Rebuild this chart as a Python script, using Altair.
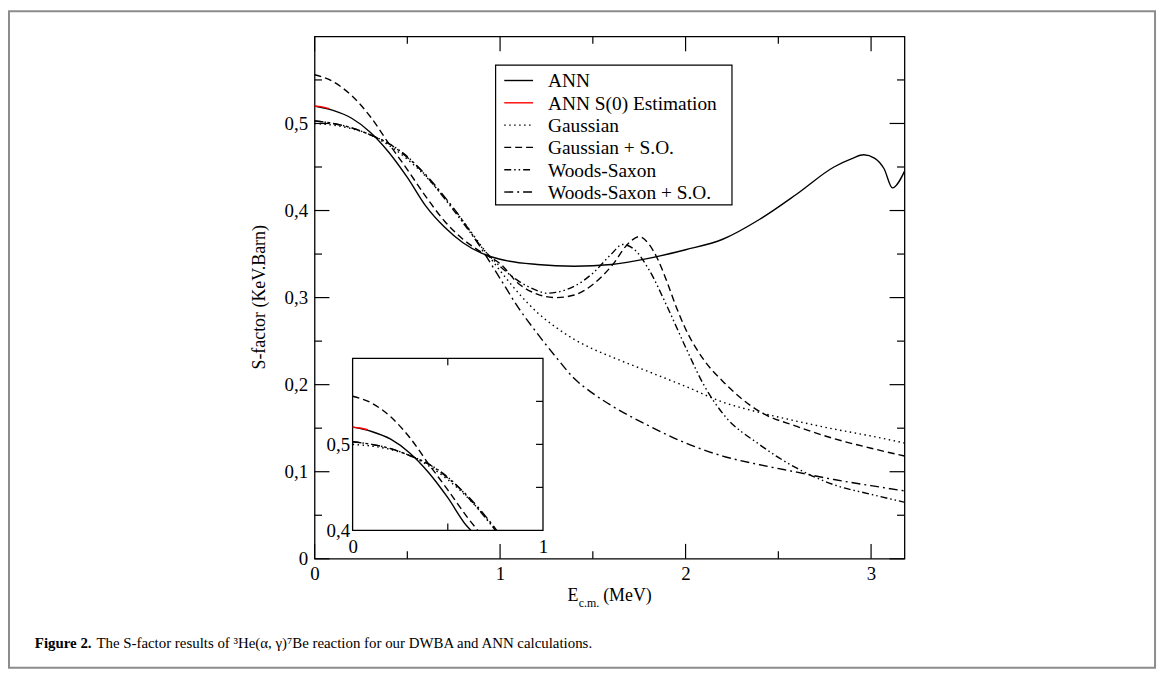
import altair as alt
import pandas as pd

# ---------------- data ----------------
ANN_X = [0.0, 0.1, 0.2, 0.3, 0.4, 0.5, 0.6, 0.7, 0.8, 0.9, 1.0, 1.2, 1.4, 1.6, 1.8,
         2.0, 2.2, 2.4, 2.6, 2.8, 2.9, 2.96, 3.02, 3.07, 3.115, 3.18]
ANN_Y = [0.520, 0.515, 0.506, 0.490, 0.467, 0.438, 0.405, 0.381, 0.363, 0.351, 0.344,
         0.338, 0.336, 0.338, 0.345, 0.355, 0.367, 0.390, 0.419, 0.450, 0.460, 0.464,
         0.460, 0.448, 0.426, 0.445]

S0_X = [0.0, 0.04, 0.08]
S0_Y = [0.520, 0.519, 0.517]

GAUSS_X = [0.0, 0.1, 0.2, 0.3, 0.4, 0.5, 0.6, 0.7, 0.8, 0.9, 1.0, 1.1, 1.2, 1.3, 1.4,
           1.5, 1.6, 1.8, 2.0, 2.2, 2.4, 2.6, 2.8, 3.0, 3.18]
GAUSS_Y = [0.500, 0.498, 0.494, 0.487, 0.475, 0.459, 0.439, 0.415, 0.388, 0.359, 0.331,
           0.305, 0.283, 0.266, 0.252, 0.241, 0.232, 0.215, 0.198, 0.180, 0.168, 0.158,
           0.149, 0.141, 0.133]

GSO_X = [0.0, 0.1, 0.2, 0.3, 0.4, 0.5, 0.6, 0.7, 0.8, 0.9, 1.0, 1.1, 1.2, 1.3, 1.4,
         1.5, 1.6, 1.7, 1.75, 1.8, 1.85, 1.9, 1.95, 2.0, 2.1, 2.2, 2.4, 2.6, 2.8, 3.0, 3.18]
GSO_Y = [0.556, 0.548, 0.532, 0.508, 0.477, 0.447, 0.416, 0.388, 0.367, 0.352, 0.339,
         0.316, 0.304, 0.300, 0.303, 0.315, 0.336, 0.364, 0.370, 0.362, 0.344, 0.318,
         0.289, 0.264, 0.228, 0.204, 0.169, 0.152, 0.138, 0.127, 0.118]

WS_X = [0.0, 0.1, 0.2, 0.3, 0.4, 0.5, 0.6, 0.7, 0.8, 0.9, 1.0, 1.1, 1.2, 1.25, 1.3,
        1.4, 1.5, 1.6, 1.66, 1.72, 1.8, 1.9, 2.0, 2.1, 2.2, 2.4, 2.6, 2.8, 3.0, 3.18]
WS_Y = [0.503, 0.500, 0.495, 0.487, 0.477, 0.462, 0.440, 0.414, 0.386, 0.358, 0.336,
        0.319, 0.308, 0.305, 0.306, 0.313, 0.328, 0.350, 0.361, 0.356, 0.333, 0.290,
        0.243, 0.199, 0.167, 0.131, 0.104, 0.085, 0.074, 0.065]

WSSO_X = [0.0, 0.1, 0.2, 0.3, 0.4, 0.5, 0.6, 0.7, 0.8, 0.9, 1.0, 1.1, 1.2, 1.3, 1.4,
          1.5, 1.6, 1.8, 2.0, 2.2, 2.4, 2.6, 2.8, 3.0, 3.18]
WSSO_Y = [0.503, 0.500, 0.495, 0.487, 0.477, 0.461, 0.441, 0.416, 0.388, 0.356, 0.322,
          0.288, 0.259, 0.232, 0.207, 0.190, 0.176, 0.153, 0.133, 0.118, 0.108, 0.0995,
          0.091, 0.084, 0.078]

LEGEND_NAMES = ["ANN", "ANN S(0) Estimation", "Gaussian", "Gaussian + S.O.",
                "Woods-Saxon", "Woods-Saxon + S.O."]

X_DOMAIN = [0, 3.18]
Y_DOMAIN = [0, 0.6]
X_MAJOR = [0, 1, 2, 3]
X_MINOR = [0.5, 1.5, 2.5]
Y_MAJOR = [0, 0.1, 0.2, 0.3, 0.4, 0.5]
Y_MINOR = [0.05, 0.15, 0.25, 0.35, 0.45, 0.55]

IN_X_DOMAIN = [0, 1]
IN_Y_DOMAIN = [0.4, 0.6]
IN_X_LABELS = [0, 1]
IN_Y_LABELS = [0.4, 0.5]
IN_X_TICKS = [0.5]
IN_Y_TICKS = [0.45, 0.5, 0.55]

Y_TITLE = ["S-factor (KeV.Barn)"]
X_TITLE = ["E", "c.m.", "(MeV)"]
CAPTION = ["Figure 2.",
           "The S-factor results of \u00b3He(\u03b1, \u03b3)\u2077Be reaction for our DWBA and ANN calculations."]

# ---------------- styling / layout ----------------
FONT = "Liberation Serif"
W, H = 594, 526
PAD_L, PAD_T = 308.7, 26.3
LW = 1.4

STYLE = {
    "ANN": ("black", None),
    "ANN S(0) Estimation": ("#ff0000", None),
    "Gaussian": ("black", [1.5, 3.5]),
    "Gaussian + S.O.": ("black", [7, 4]),
    "Woods-Saxon": ("black", [7, 3, 1.5, 3, 1.5, 3]),
    "Woods-Saxon + S.O.": ("black", [9, 4, 2, 4]),
}
DATA = {
    "ANN": (ANN_X, ANN_Y),
    "ANN S(0) Estimation": (S0_X, S0_Y),
    "Gaussian": (GAUSS_X, GAUSS_Y),
    "Gaussian + S.O.": (GSO_X, GSO_Y),
    "Woods-Saxon": (WS_X, WS_Y),
    "Woods-Saxon + S.O.": (WSSO_X, WSSO_Y),
}
DRAW_ORDER = ["Gaussian", "Gaussian + S.O.", "Woods-Saxon", "Woods-Saxon + S.O.",
              "ANN", "ANN S(0) Estimation"]

LABEL_EXPR = "datum.value == 0 ? '0' : replace(format(datum.value, '.1f'), '.', ',')"

axis_common = dict(ticks=False, domain=False, grid=False, labelFont=FONT,
                   labelFontSize=19, labelColor="black", title=None,
                   labelOverlap=False, labelFlush=False, labelBound=False)


def mx(field):
    return alt.X(field, type="quantitative",
                 scale=alt.Scale(domain=X_DOMAIN, nice=False, zero=False),
                 axis=alt.Axis(values=X_MAJOR, format="d", labelPadding=6,
                               orient="bottom", **axis_common))


def my(field):
    return alt.Y(field, type="quantitative",
                 scale=alt.Scale(domain=Y_DOMAIN, nice=False, zero=False),
                 axis=alt.Axis(values=Y_MAJOR, labelExpr=LABEL_EXPR, labelPadding=7,
                               orient="left", **axis_common))


IN_XR = [38.3, 230.0]
IN_YR = [497.4, 324.2]


def ix(field):
    return alt.X(field, type="quantitative",
                 scale=alt.Scale(domain=IN_X_DOMAIN, range=IN_XR, nice=False, zero=False),
                 axis=alt.Axis(values=IN_X_LABELS, format="d", labelPadding=7,
                               orient="bottom", offset=-(H - IN_YR[0]), **axis_common))


def iy(field):
    return alt.Y(field, type="quantitative",
                 scale=alt.Scale(domain=IN_Y_DOMAIN, range=IN_YR, nice=False, zero=False),
                 axis=alt.Axis(values=IN_Y_LABELS, labelExpr=LABEL_EXPR, labelPadding=3,
                               orient="left", offset=-IN_XR[0], **axis_common))


def line_kw(name):
    color, dash = STYLE[name]
    kw = dict(color=color, strokeWidth=LW, interpolate="monotone", strokeCap="butt")
    if dash:
        kw["strokeDash"] = dash
    return kw


def clip_inset(xs, ys):
    ox, oy = [], []
    for i, (x, y) in enumerate(zip(xs, ys)):
        if x > IN_X_DOMAIN[1]:
            break
        if y < IN_Y_DOMAIN[0]:
            if i > 0:
                x0, y0 = xs[i - 1], ys[i - 1]
                t = (y0 - IN_Y_DOMAIN[0]) / (y0 - y)
                ox.append(x0 + t * (x - x0))
                oy.append(IN_Y_DOMAIN[0])
            break
        ox.append(x)
        oy.append(y)
    return ox, oy


# ---------------- main panel ----------------
main_layers = []
for name in DRAW_ORDER:
    xs, ys = DATA[name]
    df = pd.DataFrame({"x": xs, "y": ys})
    main_layers.append(alt.Chart(df).mark_line(**line_kw(name)).encode(x=mx("x"), y=my("y")))

TMAJ, TMIN = 15, 7.5
tick_layers = []
for vals, ln in ((X_MAJOR, TMAJ), (X_MINOR, TMIN)):
    d = pd.DataFrame({"x": vals})
    tick_layers.append(alt.Chart(d).mark_rule(color="black", strokeWidth=1.2).encode(
        x=mx("x"), y=alt.value(H), y2=alt.value(H - ln)))
    tick_layers.append(alt.Chart(d).mark_rule(color="black", strokeWidth=1.2).encode(
        x=mx("x"), y=alt.value(0), y2=alt.value(ln)))
for vals, ln in ((Y_MAJOR, TMAJ), (Y_MINOR, TMIN)):
    d = pd.DataFrame({"y": vals})
    tick_layers.append(alt.Chart(d).mark_rule(color="black", strokeWidth=1.2).encode(
        y=my("y"), x=alt.value(0), x2=alt.value(ln)))
    tick_layers.append(alt.Chart(d).mark_rule(color="black", strokeWidth=1.2).encode(
        y=my("y"), x=alt.value(W - ln), x2=alt.value(W)))

main_group = alt.layer(*main_layers, *tick_layers)

# ---------------- inset ----------------
frame_df = pd.DataFrame({"x": [IN_X_DOMAIN[0]], "x2": [IN_X_DOMAIN[1]],
                         "y": [IN_Y_DOMAIN[0]], "y2": [IN_Y_DOMAIN[1]]})
inset_layers = [alt.Chart(frame_df).mark_rect(fill="white", stroke="black", strokeWidth=1.3).encode(
    x=ix("x"), x2="x2:Q", y=iy("y"), y2="y2:Q")]
for name in DRAW_ORDER:
    xs, ys = DATA[name]
    cx, cy = clip_inset(xs, ys)
    df = pd.DataFrame({"x": cx, "y": cy})
    inset_layers.append(alt.Chart(df).mark_line(**line_kw(name)).encode(x=ix("x"), y=iy("y")))
ITK = 7
dxt = pd.DataFrame({"x": IN_X_TICKS})
dyt = pd.DataFrame({"y": IN_Y_TICKS})
inset_layers.append(alt.Chart(dxt).mark_rule(color="black", strokeWidth=1.2).encode(
    x=ix("x"), y=alt.value(IN_YR[1]), y2=alt.value(IN_YR[1] + ITK)))
inset_layers.append(alt.Chart(dxt).mark_rule(color="black", strokeWidth=1.2).encode(
    x=ix("x"), y=alt.value(IN_YR[0]), y2=alt.value(IN_YR[0] - ITK)))
inset_layers.append(alt.Chart(dyt).mark_rule(color="black", strokeWidth=1.2).encode(
    y=iy("y"), x=alt.value(IN_XR[1] - ITK), x2=alt.value(IN_XR[1])))
inset_group = alt.layer(*inset_layers)

# ---------------- legend ----------------
leg_df = pd.DataFrame({"row": list(range(len(LEGEND_NAMES))), "name": LEGEND_NAMES})
ly = alt.Y("row:Q", scale=alt.Scale(domain=[0, 5], range=[44.4, 156.7]), axis=None)
leg_layers = [alt.Chart(pd.DataFrame({"k": [0]})).mark_rect(
    fill="white", stroke="black", strokeWidth=1.2).encode(
    x=alt.value(182.3), x2=alt.value(420.3), y=alt.value(29), y2=alt.value(169.7))]
for i, name in enumerate(LEGEND_NAMES):
    color, dash = STYLE[name]
    kw = dict(color=color, strokeWidth=LW, strokeCap="butt")
    if dash:
        kw["strokeDash"] = dash
    leg_layers.append(alt.Chart(leg_df.iloc[[i]]).mark_rule(**kw).encode(
        y=ly, x=alt.value(191), x2=alt.value(220)))
leg_layers.append(alt.Chart(leg_df).mark_text(
    align="left", baseline="middle", font=FONT, fontSize=19.5, color="black", dy=1).encode(
    y=ly, x=alt.value(235), text="name:N"))
legend_group = alt.layer(*leg_layers)

# ---------------- annotations ----------------
def txt(s, x, y, **kw):
    return alt.Chart(pd.DataFrame({"t": [s]})).mark_text(font=FONT, color="black", **kw).encode(
        x=alt.value(x), y=alt.value(y), text="t:N")

annot = [
    alt.Chart(pd.DataFrame({"k": [0]})).mark_rect(
        fillOpacity=0, stroke="#8c8c8c", strokeWidth=2).encode(
        x=alt.value(9 - (PAD_L + 8)), x2=alt.value(1163 - (PAD_L + 8)),
        y=alt.value(9 - (PAD_T + 8)), y2=alt.value(670 - (PAD_T + 8))),
    txt(Y_TITLE[0], -54.7, 262.7, fontSize=18, angle=270, align="center", baseline="middle"),
    txt(X_TITLE[0], 254.8, 568.7, fontSize=18, align="left", baseline="alphabetic"),
    txt(X_TITLE[1], 266.0, 574.2, fontSize=12, align="left", baseline="alphabetic"),
    txt(X_TITLE[2], 290.6, 568.7, fontSize=18, align="left", baseline="alphabetic"),
    txt(CAPTION[0], 35 - (PAD_L + 8), 650 - (PAD_T + 8), fontSize=15, fontWeight="bold",
        align="left", baseline="alphabetic"),
    txt(CAPTION[1], 35 - (PAD_L + 8) + 62, 650 - (PAD_T + 8), fontSize=15,
        align="left", baseline="alphabetic"),
]
annot_group = alt.layer(*annot)

chart = alt.layer(main_group, inset_group, legend_group, annot_group).resolve_scale(
    x="independent", y="independent"
).properties(
    width=W, height=H,
    padding={"left": PAD_L, "top": PAD_T, "right": 1160 - PAD_L - W, "bottom": 664 - PAD_T - H},
    autosize=alt.AutoSizeParams(type="none"),
    background="white",
).configure_view(stroke="black", strokeWidth=1.3)

chart.save("out.html", embed_options={"renderer": "svg", "actions": False})
